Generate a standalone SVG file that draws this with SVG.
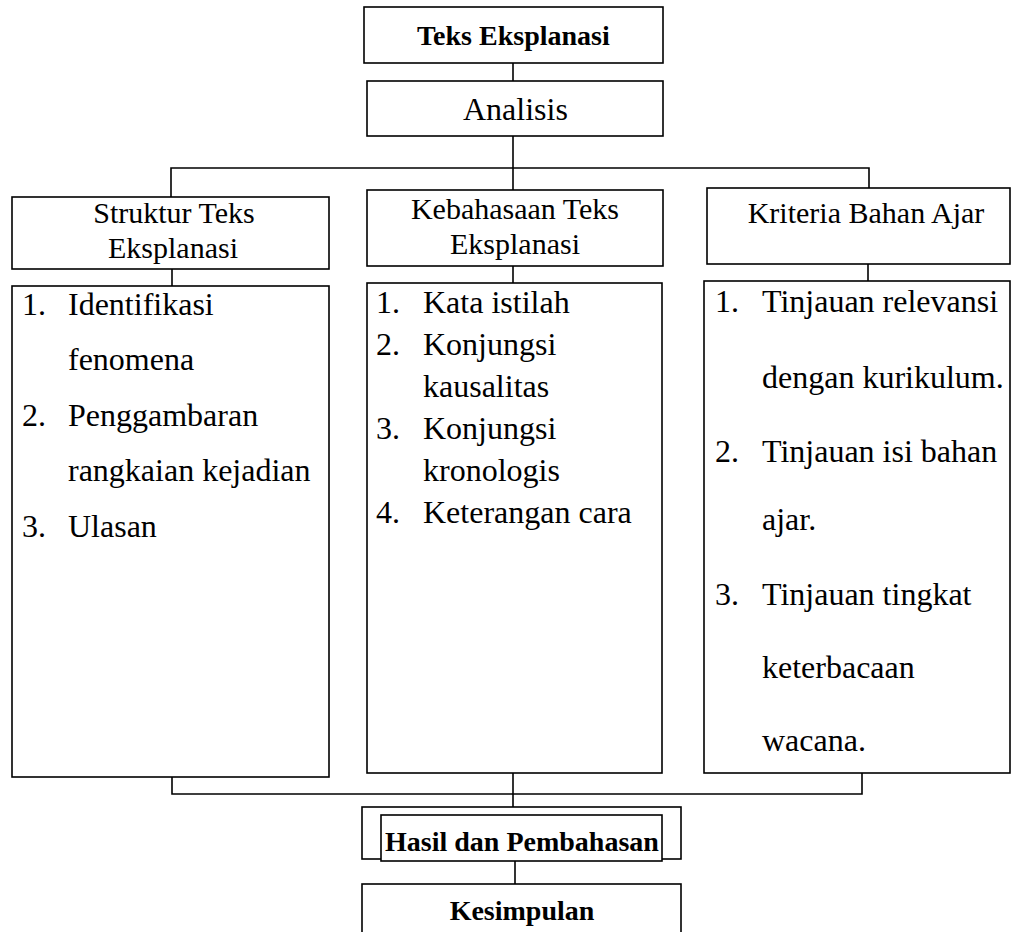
<svg xmlns="http://www.w3.org/2000/svg" width="1013" height="932" viewBox="0 0 1013 932">
<style>
.box{fill:#fff;stroke:#000;stroke-width:1.6}
.con{fill:none;stroke:#000;stroke-width:1.6}
text{fill:#000;font-family:"Liberation Serif","Times New Roman",serif}
.b{font-weight:bold;font-size:28px}
.h{font-size:30px}
.l{font-size:32px}
.m{text-anchor:middle}
</style>
<rect width="1013" height="932" fill="#fff"/>
<g id="connectors">
<line class="con" x1="513" y1="63" x2="513" y2="81"/>
<line class="con" x1="513" y1="136" x2="513" y2="190"/>
<polyline class="con" points="171,197 171,168 869,168 869,193"/>
<line class="con" x1="172" y1="269" x2="172" y2="286"/>
<line class="con" x1="513" y1="266" x2="513" y2="283"/>
<line class="con" x1="868" y1="260" x2="868" y2="283"/>
<polyline class="con" points="172,777 172,794 862,794 862,773"/>
<line class="con" x1="513" y1="771" x2="513" y2="807"/>
<line class="con" x1="515" y1="861" x2="515" y2="884"/>
</g>
<g id="teks-eksplanasi">
<rect class="box" x="364" y="7" width="299" height="56"/>
<text class="b" x="417" y="45" font-size="29">Teks Eksplanasi</text>
</g>
<g id="analisis">
<rect class="box" x="367" y="81" width="296" height="55"/>
<text class="l" x="463" y="120">Analisis</text>
</g>
<g id="struktur">
<rect class="box" x="12" y="197" width="317" height="72"/>
<text class="h m" x="174" y="223" font-size="31">Struktur Teks</text>
<text class="h m" x="173" y="258" font-size="31">Eksplanasi</text>
</g>
<g id="kebahasaan">
<rect class="box" x="367" y="190" width="296" height="76"/>
<text class="h m" x="515" y="219" font-size="29">Kebahasaan Teks</text>
<text class="h m" x="515" y="254" font-size="29">Eksplanasi</text>
</g>
<g id="kriteria">
<rect class="box" x="707" y="188" width="303" height="76"/>
<text class="h m" x="866" y="223" font-size="29">Kriteria Bahan Ajar</text>
</g>
<g id="struktur-list">
<rect class="box" x="12" y="286" width="317" height="491"/>
<text class="l" x="22" y="315">1.</text><text class="l" x="68" y="315">Identifikasi</text>
<text class="l" x="68" y="370">fenomena</text>
<text class="l" x="22" y="426">2.</text><text class="l" x="68" y="426">Penggambaran</text>
<text class="l" x="68" y="481">rangkaian kejadian</text>
<text class="l" x="22" y="537">3.</text><text class="l" x="68" y="537">Ulasan</text>
</g>
<g id="kebahasaan-list">
<rect class="box" x="367" y="283" width="295" height="490"/>
<text class="l" x="376" y="313">1.</text><text class="l" x="423" y="313">Kata istilah</text>
<text class="l" x="376" y="355">2.</text><text class="l" x="423" y="355">Konjungsi</text>
<text class="l" x="423" y="397">kausalitas</text>
<text class="l" x="376" y="439">3.</text><text class="l" x="423" y="439">Konjungsi</text>
<text class="l" x="423" y="481">kronologis</text>
<text class="l" x="376" y="523">4.</text><text class="l" x="423" y="523">Keterangan cara</text>
</g>
<g id="kriteria-list">
<rect class="box" x="704" y="281" width="306" height="492"/>
<text class="l" x="715" y="312">1.</text><text class="l" x="762" y="312">Tinjauan relevansi</text>
<text class="l" x="762" y="388">dengan kurikulum.</text>
<text class="l" x="715" y="462">2.</text><text class="l" x="762" y="462">Tinjauan isi bahan</text>
<text class="l" x="762" y="530">ajar.</text>
<text class="l" x="715" y="605">3.</text><text class="l" x="762" y="605">Tinjauan tingkat</text>
<text class="l" x="762" y="678">keterbacaan</text>
<text class="l" x="762" y="751">wacana.</text>
</g>
<g id="hasil">
<rect class="box" x="362" y="807" width="319" height="52"/>
<rect class="box" x="381" y="815" width="281" height="46"/>
<text class="b m" x="522" y="851">Hasil dan Pembahasan</text>
</g>
<g id="kesimpulan">
<rect class="box" x="362" y="884" width="319" height="60"/>
<text class="b m" x="522" y="920">Kesimpulan</text>
</g>
</svg>
